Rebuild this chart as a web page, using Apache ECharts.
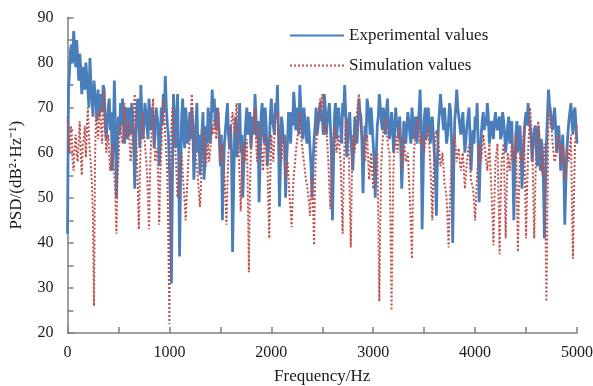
<!DOCTYPE html>
<html>
<head>
<meta charset="utf-8">
<script src="https://cdn.jsdelivr.net/npm/echarts@6/dist/echarts.min.js"></script>
<style>
html,body{margin:0;padding:0;background:#fff;}
#c{width:593px;height:386px;}
</style>
</head>
<body>
<div id="c"></div>
<script>
// Frequency step 10 Hz, 0..5000
const freqStep = 10;
const experimental = [
42,74,78,83,84,80,87,84,79,85,81,76,82,79,73,78,79,74,80,77,
74,70,81,75,72,68,76,73,71,67,74,68,70,73,69,75,74,66,63,67,
70,72,65,69,56,64,76,66,50,62,68,64,71,66,72,67,62,70,69,63,
70,66,64,71,68,62,52,63,70,72,67,61,75,68,63,66,71,69,66,63,
72,68,65,70,68,61,64,70,68,66,57,62,70,66,73,69,77,70,66,64,
57,49,31,55,73,68,61,66,73,60,37,55,68,72,64,61,70,66,62,64,
69,63,70,66,54,60,66,71,60,64,55,61,65,69,54,58,66,62,70,67,
62,67,74,69,72,67,65,70,68,63,57,64,45,55,62,65,68,71,64,61,
66,60,38,52,64,68,59,62,66,71,60,64,50,57,63,67,70,64,67,69,
61,65,68,64,73,68,63,67,49,58,68,71,65,62,70,66,57,60,62,68,
72,67,66,64,71,68,75,65,48,57,68,66,62,64,50,58,63,69,66,62,
69,66,73.5,70,65,70,68,64,75,70,66,63,70,67,64,62,68,65,61,57,
50,58,63,66,70,64,66,69,71,67,68,64,73,70,64,67,69,71,66,60,
45,57,68,71,63,66,70,67,66,62,71,68,75,69,59,63,67,69,63,60,
56,62,68,65,62,66,72,69,68,62,51,60,66,63,72,70,68,64,70,66,
62,58,50,59,66,68,73,70,67,65,70,67,64,69,72,66,63,65,69,66,
60,64,70,67,66,63,68,62,52,58,67,65,62,66,69,67,64,62,70,67,
63,67,68,62,65,69,74,66,43,55,67,70,63,66,70,67,62,65,68,64,
60,55,46,58,66,69,73,70,68,65,70,66,62,64,67,71,69,62,40,56,
67,70,74,70,68,66,64,67,69,64,60,63,66,68,70,64,56,61,65,62,
68,65,71,62,49,58,64,67,69,65,68,66,71,68,62,64,67,66,63,67,
69,66,65,67,68,63,64,69,67,64,60,63,66,68,62,65,67,58,45,56,
64,67,60,63,66,61,52,58,63,67,69,66,71,68,66,63,58,62,65,66,
61,57,66,62,56,63,60,54,41,52,62,68,74,71,69,66,65,68,70,66,
60,64,66,62,56,60,64,58,44,53,60,64,67,69,71,67,64,69,70,66,
62
];
const simulation = [
68,63,60,66,65,58,56,61,64,60,58,63,67,60,55,62,63,66,59,65,
70,64,60,57,53,45,26,58,69,66,63,67,70,65,62,70,74,66,60,62,
64,59,56,60,62,57,55,50,42,54,58,63,66,64,62,68,71,66,63,65,
67,62,58,61,64,69,73,65,60,52,43,55,64,66,69,64,62,59,56,50,
43,56,62,68,72,65,58,60,61,54,44,55,60,67,72,68,63,60,55,40,
22,50,66,70,68,64,60,55,50,53,56,59,60,56,52,49,45,51,55,60,
63,69,73,68,64,61,59,57,54,51,48,53,58,62,65,61,57,60,62,58,
60,63,66,64,68,66,63,67,70,64,58,61,62,58,55,50,44,53,60,62,
65,67,69,66,64,68,71,66,60,54,47,55,62,60,58,61,63,50,33.5,52,
60,64,66,68,70,63,58,62,67,65,62,59,56,61,64,62,59,50,41,55,
64,61,58,63,67,68,69,65,62,60,58,62,64,58,54,57,58,54,50,47,
43.5,50,55,57,60,62,64,67,69,65,62,60,58,56,54,53,51,49,46,51,
55,48,39.5,54,62,65,68,70,72,70,73,68,64,65,66,62,58,52,47.5,56,
62,64,66,63,60,62,64,61,58,50,42,55,63,66,68,64,60,50,39,54,
64,62,60,65,69,71,73,69,66,64,62,60,58,61,64,59,54,57,60,56,
52,55,57,59,60,45,27,45,58,62,65,67,68,66,63,61,60,44,25,44,
58,61,64,62,60,63,66,61,56,60,63,61,58,59,60,55,50,44,36.5,50,
60,63,66,67,68,65,62,63,64,62,60,62,63,65,66,62,58,52,45,54,
60,63,65,64,62,60,57,58,60,57,53,52,50,45,39,47,53,57,60,62,
64,61,58,60,61,58,56,58,60,56,52,55,58,60,62,58,54,53,52,49,
45,50,55,58,62,60,58,61,64,62,60,58,56,59,62,57,52,46,39.5,50,
58,60,62,50,37.5,49,58,60,62,52,41,52,60,58,56,59,62,60,58,61,
64,52,38,50,60,59,58,62,66,54,41,52,60,65,70,66,62,52,41,52,
62,65,67,64,60,58,55,59,62,45,27,48,66,68,70,66,62,60,58,59,
60,62,64,61,58,60,62,58,54,58,61,60,58,61,64,50,36.5,50,62,64,
66
];
const xTicks = [0,1000,2000,3000,4000,5000];
const yTicks = [20,30,40,50,60,70,80,90];

const toPairs = arr => arr.map((v,i)=>[i*freqStep, v]);
const font = '"Liberation Serif","Times New Roman",serif';

const chart = echarts.init(document.getElementById('c'), null, {renderer:'canvas'});
chart.setOption({
  animation:false,
  backgroundColor:'#ffffff',
  grid:{left:67.5, right:16, top:17.5, bottom:53, containLabel:false, outerBoundsMode:'none'},
  legend:{
    orient:'vertical', left:284, top:22, itemGap:13,
    itemWidth:54, itemHeight:14,
    itemStyle:{opacity:0},
    textStyle:{fontFamily:font, fontSize:17, color:'#1a1a1a'},
    data:['Experimental values','Simulation values']
  },
  xAxis:{
    type:'value', min:0, max:5000, interval:500,
    axisLine:{lineStyle:{color:'#7f7f7f', width:1.5}},
    axisTick:{inside:true, length:6, lineStyle:{color:'#7f7f7f', width:1.5}},
    axisLabel:{
      fontFamily:font, fontSize:16, color:'#1a1a1a', margin:12,
      formatter: v => xTicks.indexOf(v) >= 0 ? String(v) : ''
    },
    splitLine:{show:false},
    name:'Frequency/Hz', nameLocation:'middle', nameGap:35,
    nameTextStyle:{fontFamily:font, fontSize:17, color:'#1a1a1a'}
  },
  yAxis:{
    type:'value', min:20, max:90, interval:5,
    axisLine:{show:true, lineStyle:{color:'#7f7f7f', width:1.5}},
    axisTick:{show:true, inside:true, length:6, lineStyle:{color:'#7f7f7f', width:1.5}},
    axisLabel:{
      fontFamily:font, fontSize:16, color:'#1a1a1a', margin:14,
      formatter: v => yTicks.indexOf(v) >= 0 ? String(v) : ''
    },
    splitLine:{show:false},
    name:'PSD/(dB²·Hz⁻¹)', nameLocation:'middle', nameGap:42,
    nameTextStyle:{fontFamily:font, fontSize:17, color:'#1a1a1a'}
  },
  series:[
    {
      name:'Experimental values', type:'line', data:toPairs(experimental),
      symbol:'none', showSymbol:false,
      lineStyle:{color:'#4a7ebb', width:2.8},
      itemStyle:{color:'#4a7ebb'}
    },
    {
      name:'Simulation values', type:'line', data:toPairs(simulation),
      symbol:'none', showSymbol:false,
      lineStyle:{color:'#c0504d', width:2, type:[2,2]},
      itemStyle:{color:'#c0504d'}
    }
  ]
});
</script>
</body>
</html>
